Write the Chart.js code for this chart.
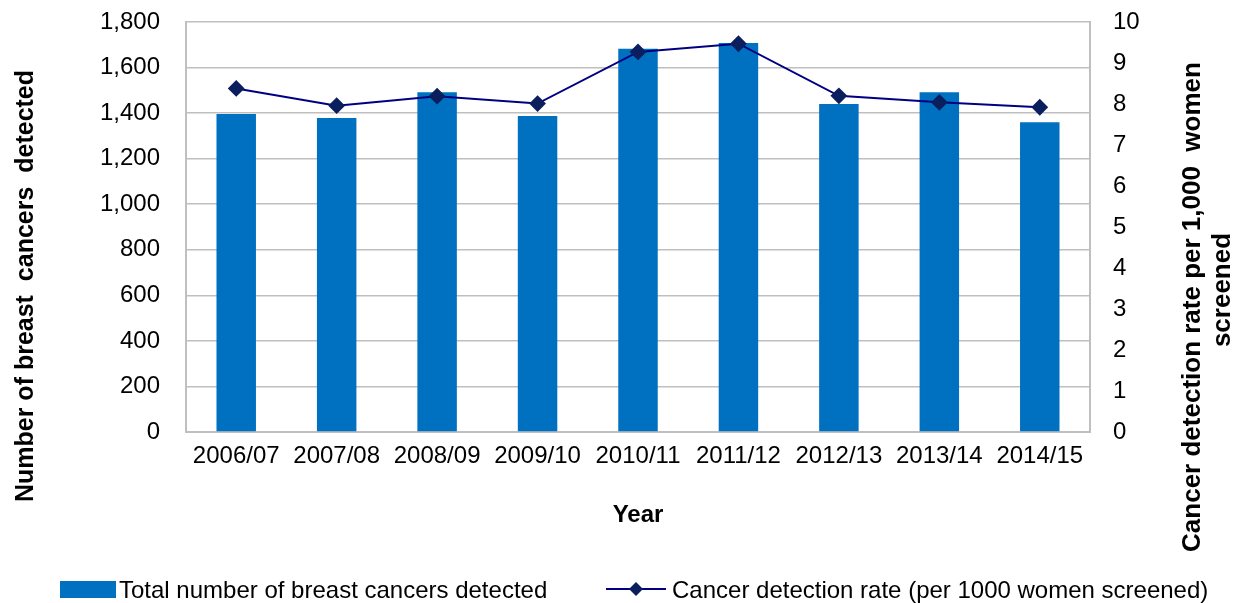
<!DOCTYPE html>
<html>
<head>
<meta charset="utf-8">
<script src="https://cdn.jsdelivr.net/npm/chart.js@4.4.1/dist/chart.umd.min.js"></script>
<style>
  html, body { margin: 0; padding: 0; background: #fff; }
  #wrap { width: 1236px; height: 603px; position: relative; }
</style>
</head>
<body>
<div id="wrap"><canvas id="chart"></canvas></div>
<script>
const categories = ['2006/07', '2007/08', '2008/09', '2009/10', '2010/11', '2011/12', '2012/13', '2013/14', '2014/15'];
const cancersDetected = [1396, 1379, 1492, 1387, 1683, 1708, 1440, 1492, 1360];
const detectionRate = [8.38, 7.96, 8.19, 8.01, 9.27, 9.47, 8.20, 8.04, 7.92];
const leftTicks = { min: 0, max: 1800, step: 200 };
const rightTicks = { min: 0, max: 10, step: 1 };

const FONT = '"Liberation Sans", Arial, sans-serif';
const BAR_COLOR = '#0070C0';
const LINE_COLOR = '#000080';
const MARKER_COLOR = '#0B1F5E';
const GRID_COLOR = '#BFBFBF';

// titles and legend drawn by hand, Excel style
const decorations = {
    id: 'decorations',
    afterDraw(chart) {
        const ctx = chart.ctx;
        const area = chart.chartArea;
        ctx.save();
        ctx.fillStyle = '#000';

        ctx.font = 'bold 24px ' + FONT;
        ctx.textAlign = 'center';
        ctx.textBaseline = 'alphabetic';
        ctx.fillText('Year', (area.left + area.right) / 2, 522);

        ctx.save();
        ctx.font = 'bold 25px ' + FONT;
        ctx.translate(33, 286);
        ctx.rotate(-Math.PI / 2);
        ctx.fillText('Number of breast  cancers  detected', 0, 0);
        ctx.restore();

        ctx.save();
        ctx.font = 'bold 26px ' + FONT;
        ctx.translate(1200, 307);
        ctx.rotate(-Math.PI / 2);
        ctx.fillText('Cancer detection rate per 1,000  women', 0, 0);
        ctx.fillText('screened', 17, 30);
        ctx.restore();

        // legend
        const ds = chart.data.datasets;
        ctx.font = '24px ' + FONT;
        ctx.textAlign = 'left';
        ctx.fillStyle = ds[1].backgroundColor;
        ctx.fillRect(60, 581, 56, 17);
        ctx.fillStyle = '#000';
        ctx.fillText(ds[1].label, 119, 598);

        ctx.strokeStyle = ds[0].borderColor;
        ctx.lineWidth = 2;
        ctx.beginPath();
        ctx.moveTo(606, 589);
        ctx.lineTo(666, 589);
        ctx.stroke();
        ctx.fillStyle = ds[0].pointBackgroundColor;
        ctx.beginPath();
        ctx.moveTo(636, 582);
        ctx.lineTo(643, 589);
        ctx.lineTo(636, 596);
        ctx.lineTo(629, 589);
        ctx.closePath();
        ctx.fill();
        ctx.fillStyle = '#000';
        ctx.fillText(ds[0].label, 672, 598);
        ctx.restore();
    }
};

function fixVertical(width) {
    return function (scale) {
        scale.width = width;
        scale.paddingTop = 14;
        scale.paddingBottom = 0;
    };
}

new Chart(document.getElementById('chart'), {
    data: {
        labels: categories,
        datasets: [{
            type: 'line',
            label: 'Cancer detection rate (per 1000 women screened)',
            data: detectionRate,
            yAxisID: 'y1',
            borderColor: LINE_COLOR,
            borderWidth: 2,
            pointStyle: 'rectRot',
            pointRadius: 7,
            pointHoverRadius: 7,
            pointBackgroundColor: MARKER_COLOR,
            pointBorderColor: MARKER_COLOR,
            tension: 0,
            order: 0
        }, {
            type: 'bar',
            label: 'Total number of breast cancers detected',
            data: cancersDetected,
            yAxisID: 'y',
            backgroundColor: BAR_COLOR,
            barPercentage: 0.393,
            categoryPercentage: 1,
            order: 1
        }]
    },
    options: {
        responsive: true,
        maintainAspectRatio: false,
        animation: false,
        layout: { padding: { top: 22, left: 0, right: 0, bottom: 0 } },
        plugins: { legend: { display: false }, tooltip: { enabled: false } },
        scales: {
            x: {
                offset: true,
                grid: { display: false, drawTicks: false },
                border: { display: true, color: GRID_COLOR, width: 2 },
                ticks: { color: '#000', font: { family: FONT, size: 24 }, padding: 10, maxRotation: 0, autoSkip: false },
                afterFit(scale) { scale.height = 171; }
            },
            y: {
                position: 'left',
                min: leftTicks.min,
                max: leftTicks.max,
                grid: { color: GRID_COLOR, lineWidth: 1.5, drawTicks: false },
                border: { display: true, color: GRID_COLOR, width: 2 },
                ticks: {
                    stepSize: leftTicks.step,
                    color: '#000',
                    font: { family: FONT, size: 24 },
                    padding: 26,
                    callback: v => v.toLocaleString('en-US')
                },
                afterFit: fixVertical(186)
            },
            y1: {
                position: 'right',
                min: rightTicks.min,
                max: rightTicks.max,
                grid: { display: false, drawTicks: false },
                border: { display: true, color: GRID_COLOR, width: 2 },
                ticks: { stepSize: rightTicks.step, color: '#000', font: { family: FONT, size: 24 }, padding: 23 },
                afterFit: fixVertical(146)
            }
        }
    },
    plugins: [decorations]
});
</script>
</body>
</html>
